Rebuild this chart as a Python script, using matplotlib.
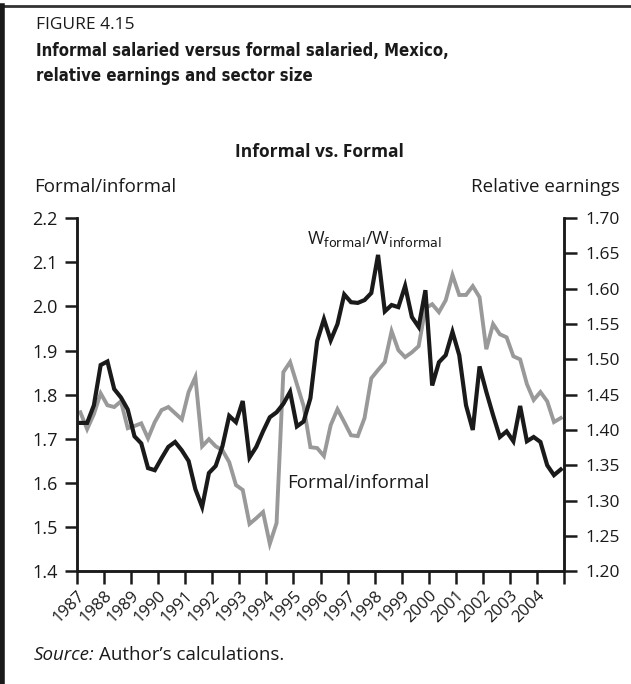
import matplotlib.pyplot as plt
from matplotlib.lines import Line2D
from matplotlib import font_manager
from matplotlib.transforms import ScaledTranslation
import numpy as np

# quarterly data, 1987Q1 - 2004Q4
years = np.arange(1987, 2005)
quarter_x = 1987 + (np.arange(72) + 0.5) / 4

# formal/informal sector size (left axis)
sector_size = [1.760, 1.722, 1.756, 1.803, 1.776, 1.772, 1.785, 1.724,
               1.729, 1.735, 1.701, 1.738, 1.765, 1.772, 1.758, 1.744,
               1.806, 1.840, 1.683, 1.699, 1.683, 1.674, 1.647, 1.595,
               1.584, 1.507, 1.520, 1.534, 1.462, 1.509, 1.851, 1.874,
               1.824, 1.774, 1.681, 1.679, 1.661, 1.731, 1.767, 1.738,
               1.708, 1.706, 1.747, 1.837, 1.856, 1.874, 1.944, 1.901,
               1.885, 1.896, 1.910, 1.996, 2.005, 1.987, 2.014, 2.071,
               2.026, 2.026, 2.046, 2.021, 1.903, 1.960, 1.937, 1.930,
               1.887, 1.880, 1.824, 1.788, 1.806, 1.785, 1.738, 1.747]

# W formal / W informal relative earnings (right axis)
rel_earnings = [1.410, 1.410, 1.435, 1.492, 1.497, 1.458, 1.446, 1.429,
                1.391, 1.381, 1.346, 1.343, 1.360, 1.376, 1.383, 1.371,
                1.356, 1.316, 1.291, 1.339, 1.349, 1.377, 1.420, 1.411,
                1.441, 1.361, 1.376, 1.398, 1.418, 1.425, 1.437, 1.454,
                1.405, 1.412, 1.445, 1.526, 1.557, 1.527, 1.550, 1.592,
                1.581, 1.580, 1.584, 1.594, 1.648, 1.568, 1.577, 1.574,
                1.604, 1.560, 1.546, 1.598, 1.463, 1.496, 1.506, 1.539,
                1.506, 1.435, 1.400, 1.490, 1.454, 1.421, 1.390, 1.398,
                1.384, 1.434, 1.384, 1.390, 1.383, 1.350, 1.336, 1.344]

text_font = ['Open Sans', 'DejaVu Sans']
plt.rcParams['font.family'] = text_font

# narrow bold face for the heading, if one is installed
names = {f.name for f in font_manager.fontManager.ttflist}
title_font = ['Liberation Sans Narrow'] if 'Liberation Sans Narrow' in names else ['DejaVu Sans']

fig = plt.figure(figsize=(6.31, 6.84), dpi=100)
ax = fig.add_axes([0.122, 0.165, 0.772, 0.516])
ax2 = ax.twinx()

ax.plot(quarter_x, sector_size, color='#999999', lw=2.8, solid_joinstyle='miter', zorder=2)
ax2.plot(quarter_x, rel_earnings, color='#1a1a1a', lw=3, solid_joinstyle='miter', zorder=3)

ax.set_xlim(1987, 2005)
ax.set_ylim(1.4, 2.2)
ax2.set_ylim(1.2, 1.7)
left_ticks = np.arange(1.4, 2.21, 0.1)
right_ticks = np.arange(1.2, 1.701, 0.05)
ax.set_yticks(left_ticks)
ax.set_yticklabels(['%.1f' % v for v in left_ticks], fontsize=13)
ax2.set_yticks(right_ticks)
ax2.set_yticklabels(['%.2f' % v for v in right_ticks], fontsize=12.5)
ax.set_xticks(list(years) + [2005])
ax.set_xticklabels([str(y) for y in years] + [''], rotation=45, ha='right',
                   rotation_mode='anchor', fontsize=12)
shift = ScaledTranslation(5 / 72, -5 / 72, fig.dpi_scale_trans)
for lab in ax.get_xticklabels():
    lab.set_transform(lab.get_transform() + shift)

for a in (ax, ax2):
    a.spines['top'].set_visible(False)
    for s in ('left', 'right', 'bottom'):
        a.spines[s].set_linewidth(1.8)
        a.spines[s].set_color('#1a1a1a')
    a.tick_params(direction='out', length=9, width=1.8, color='#1a1a1a', labelcolor='#1a1a1a')
ax.tick_params(axis='y', pad=5)
ax2.tick_params(axis='y', pad=6)
ax.tick_params(axis='x', pad=3)

ax2.annotate(r'W$_{\mathrm{formal}}$/W$_{\mathrm{informal}}$', xy=(1995.5, 1.671), fontsize=13,
             color='#1a1a1a', ha='left', va='center')
ax.annotate('Formal/informal', xy=(1994.76, 1.60), fontsize=13.5, color='#1a1a1a',
            ha='left', va='center')

fig.text(0.057, 0.963, 'FIGURE 4.15', fontsize=12.5, color='#1a1a1a', va='center')
fig.text(0.057, 0.926, 'Informal salaried versus formal salaried, Mexico,', fontsize=12,
         fontweight='bold', family=title_font, fontstretch='condensed', color='#1a1a1a', va='center')
fig.text(0.057, 0.889, 'relative earnings and sector size', fontsize=12,
         fontweight='bold', family=title_font, fontstretch='condensed', color='#1a1a1a', va='center')
fig.text(0.507, 0.778, 'Informal vs. Formal', fontsize=12.5, fontweight='bold',
         color='#1a1a1a', ha='center', va='center')
fig.text(0.054, 0.726, 'Formal/informal', fontsize=13.5, color='#1a1a1a', va='center')
fig.text(0.983, 0.726, 'Relative earnings', fontsize=13.5, color='#1a1a1a', va='center', ha='right')
fig.text(0.054, 0.042, 'Source:', fontsize=13.5, color='#1a1a1a', va='center', style='italic')
fig.text(0.157, 0.042, 'Author\u2019s calculations.', fontsize=13.5, color='#1a1a1a', va='center')

# box border
fig.add_artist(Line2D([0, 1], [0.991, 0.991], transform=fig.transFigure, color='#333333', lw=2))
fig.add_artist(Line2D([0.003, 0.003], [0, 0.991], transform=fig.transFigure, color='#1a1a1a', lw=4))

plt.savefig('out.png', dpi=100)
